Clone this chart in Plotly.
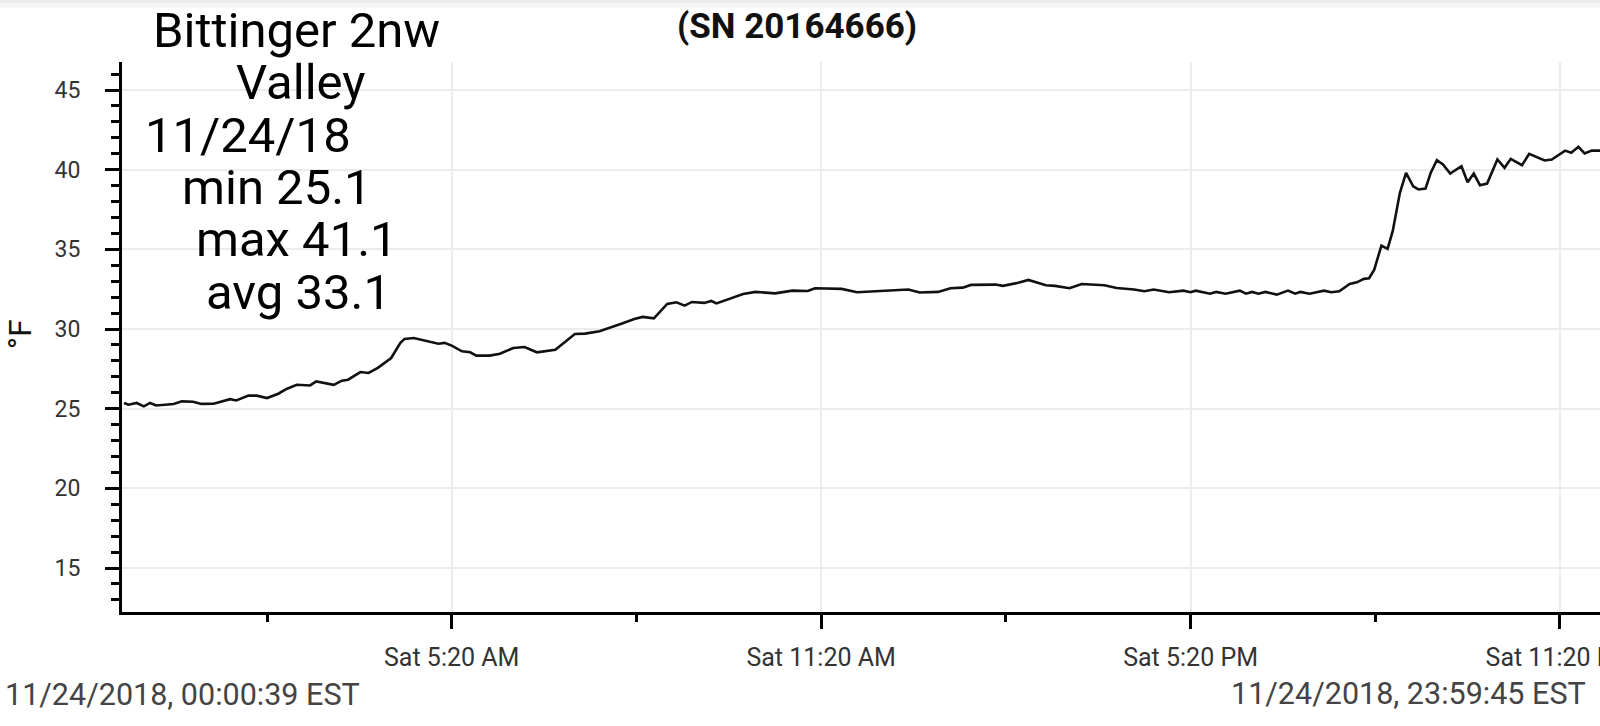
import plotly.graph_objects as go

# ---- data ----
DATE = "2018-11-24"
times = ["00:00:39", "00:05", "00:13", "00:20", "00:26", "00:32", "00:49", "00:57", "01:08", "01:16",
         "01:28", "01:44", "01:50", "02:02", "02:10", "02:20", "02:31", "02:39", "02:49", "03:02",
         "03:08", "03:25", "03:33", "03:39", "03:51", "03:59", "04:08", "04:17", "04:21", "04:30",
         "04:34", "04:43", "04:59", "05:07", "05:13", "05:20", "05:30", "05:38", "05:44", "05:57",
         "06:07", "06:20", "06:31", "06:43", "07:01", "07:09", "07:20", "07:30", "07:44", "08:06",
         "08:18", "08:26", "08:37", "08:50", "08:59", "09:07", "09:14", "09:26", "09:33", "09:38",
         "09:50", "10:04", "10:16", "10:35", "10:52", "11:07", "11:14", "11:40", "11:55", "12:24",
         "12:45", "12:56", "13:14", "13:26", "13:38", "13:46", "14:10", "14:17", "14:32", "14:42",
         "14:59", "15:08", "15:22", "15:34", "15:56", "16:08", "16:25", "16:35", "16:44", "16:59",
         "17:13", "17:20", "17:25", "17:39", "17:45", "17:54", "18:08", "18:14", "18:20", "18:26",
         "18:33", "18:44", "18:55", "19:02", "19:07", "19:16", "19:30", "19:37", "19:45", "19:55",
         "20:02", "20:09", "20:14", "20:19", "20:26", "20:32", "20:37", "20:44", "20:50", "20:57",
         "21:02", "21:09", "21:14", "21:20", "21:26", "21:33", "21:44", "21:50", "21:56", "22:02",
         "22:09", "22:19", "22:26", "22:32", "22:43", "22:50", "23:05", "23:12", "23:25", "23:31",
         "23:38", "23:44", "23:51", "23:59:45"]
temps_f = [25.36, 25.25, 25.36, 25.15, 25.36, 25.20, 25.30, 25.46, 25.44, 25.30,
           25.31, 25.60, 25.52, 25.82, 25.82, 25.67, 25.94, 26.24, 26.50, 26.46,
           26.71, 26.50, 26.76, 26.82, 27.30, 27.24, 27.56, 28.00, 28.18, 29.13,
           29.38, 29.44, 29.23, 29.08, 29.13, 28.96, 28.60, 28.54, 28.33, 28.33,
           28.45, 28.81, 28.87, 28.54, 28.70, 29.13, 29.69, 29.71, 29.86, 30.35,
           30.63, 30.76, 30.67, 31.58, 31.68, 31.47, 31.70, 31.64, 31.76, 31.61,
           31.89, 32.20, 32.33, 32.24, 32.41, 32.39, 32.56, 32.52, 32.31, 32.41,
           32.48, 32.29, 32.33, 32.56, 32.60, 32.77, 32.79, 32.71, 32.90, 33.08,
           32.75, 32.71, 32.56, 32.83, 32.75, 32.58, 32.48, 32.37, 32.48, 32.31,
           32.41, 32.31, 32.41, 32.22, 32.33, 32.22, 32.41, 32.22, 32.33, 32.22,
           32.33, 32.16, 32.41, 32.22, 32.33, 32.22, 32.41, 32.31, 32.37, 32.83,
           32.93, 33.15, 33.19, 33.73, 35.24, 35.03, 36.14, 38.55, 39.80, 38.96,
           38.76, 38.82, 39.80, 40.60, 40.33, 39.76, 40.22, 39.21, 39.76, 39.03,
           39.13, 40.64, 40.12, 40.68, 40.28, 41.00, 40.58, 40.64, 41.20, 41.06,
           41.44, 41.02, 41.20, 41.20]
y_ticks = [15, 20, 25, 30, 35, 40, 45]
title_text = "(SN 20164666)"
note_lines = ["Bittinger 2nw", "Valley", "11/24/18", "min 25.1", "max 41.1", "avg 33.1"]
start_label = "11/24/2018, 00:00:39 EST"
end_label = "11/24/2018, 23:59:45 EST"
y_title = "°F"

x_vals = [f"{DATE} {t}" if len(t) > 5 else f"{DATE} {t}:00" for t in times]

W, H = 1600, 726
ML, MR, MT, MB = 122, 0, 62, 114
PW, PH = W - ML - MR, H - MT - MB


def px(x):
    return (x - ML) / PW


def py(y):
    return (H - MB - y) / PH


fig = go.Figure()
fig.add_trace(go.Scatter(x=x_vals, y=temps_f, mode="lines",
                         line=dict(color="#111111", width=2.6), showlegend=False))

fig.update_layout(
    width=W, height=H,
    margin=dict(l=ML, r=MR, t=MT, b=MB, pad=0, autoexpand=False),
    paper_bgcolor="white", plot_bgcolor="white",
    xaxis=dict(
        type="date", automargin=False,
        range=["2018-11-23 23:58:42", "2018-11-24 23:59:00"],
        tick0="2018-11-24 05:20:00", dtick=6 * 3600 * 1000,
        tickformat="%a %-I:%M %p",
        showgrid=True, gridcolor="#ececec", gridwidth=1.5,
        showline=True, linecolor="black", linewidth=3,
        ticks="outside", ticklen=14, tickwidth=3, tickcolor="black",
        tickfont=dict(family="Roboto", size=25, color="#333333"),
        ticklabelstandoff=7, ticklabeloverflow="allow",
        minor=dict(tick0="2018-11-24 02:20:00", dtick=3 * 3600 * 1000,
                   ticks="outside", ticklen=7, tickwidth=3, tickcolor="black", showgrid=False),
        zeroline=False, fixedrange=True,
    ),
    yaxis=dict(
        range=[12.24, 46.76], automargin=False,
        tickvals=y_ticks,
        showgrid=True, gridcolor="#ececec", gridwidth=1.5,
        showline=True, linecolor="black", linewidth=3,
        ticks="outside", ticklen=14, tickwidth=3, tickcolor="black",
        tickfont=dict(family="Roboto", size=23, color="#333333"), ticklabelstandoff=20,
        minor=dict(dtick=1, tick0=0, ticks="outside", ticklen=8, tickwidth=2.5,
                   tickcolor="black", showgrid=False),
        zeroline=False, fixedrange=True,
    ),
)

# top shadow strip
fig.add_shape(type="rect", xref="paper", yref="paper", x0=px(0), x1=px(W), y0=py(0), y1=py(3),
              fillcolor="#ececec", line=dict(width=0), layer="above")
fig.add_shape(type="rect", xref="paper", yref="paper", x0=px(0), x1=px(W), y0=py(3), y1=py(8),
              fillcolor="#f6f6f6", line=dict(width=0), layer="above")

anns = []
anns.append(dict(text=f"<b>{title_text}</b>", x=px(797), y=py(27),
                 font=dict(family="Roboto", size=35, color="#111111")))
note_pos = [(296, 30), (300, 82.6), (247.5, 135), (277, 187.3), (297, 239.6), (298.5, 292.4)]
for line, (cx, cy) in zip(note_lines, note_pos):
    anns.append(dict(text=line, x=px(cx), y=py(cy),
                     font=dict(family="Roboto", size=49, color="black")))
anns.append(dict(text=y_title, x=px(20), y=py(334), textangle=-90,
                 font=dict(family="Roboto", size=32, color="#111111")))
anns.append(dict(text=start_label, x=px(3), y=py(694), xanchor="left",
                 font=dict(family="Roboto", size=30.5, color="#444444")))
anns.append(dict(text=end_label, x=px(1588), y=py(693), xanchor="right",
                 font=dict(family="Roboto", size=30.5, color="#444444")))

for a in anns:
    a.setdefault("xanchor", "center")
    a.setdefault("yanchor", "middle")
    fig.add_annotation(xref="paper", yref="paper", showarrow=False, **a)

fig.write_html(
    "out.html",
    config={"displayModeBar": False},
    post_script="document.body.style.margin='0';document.body.style.overflow='hidden';",
)
